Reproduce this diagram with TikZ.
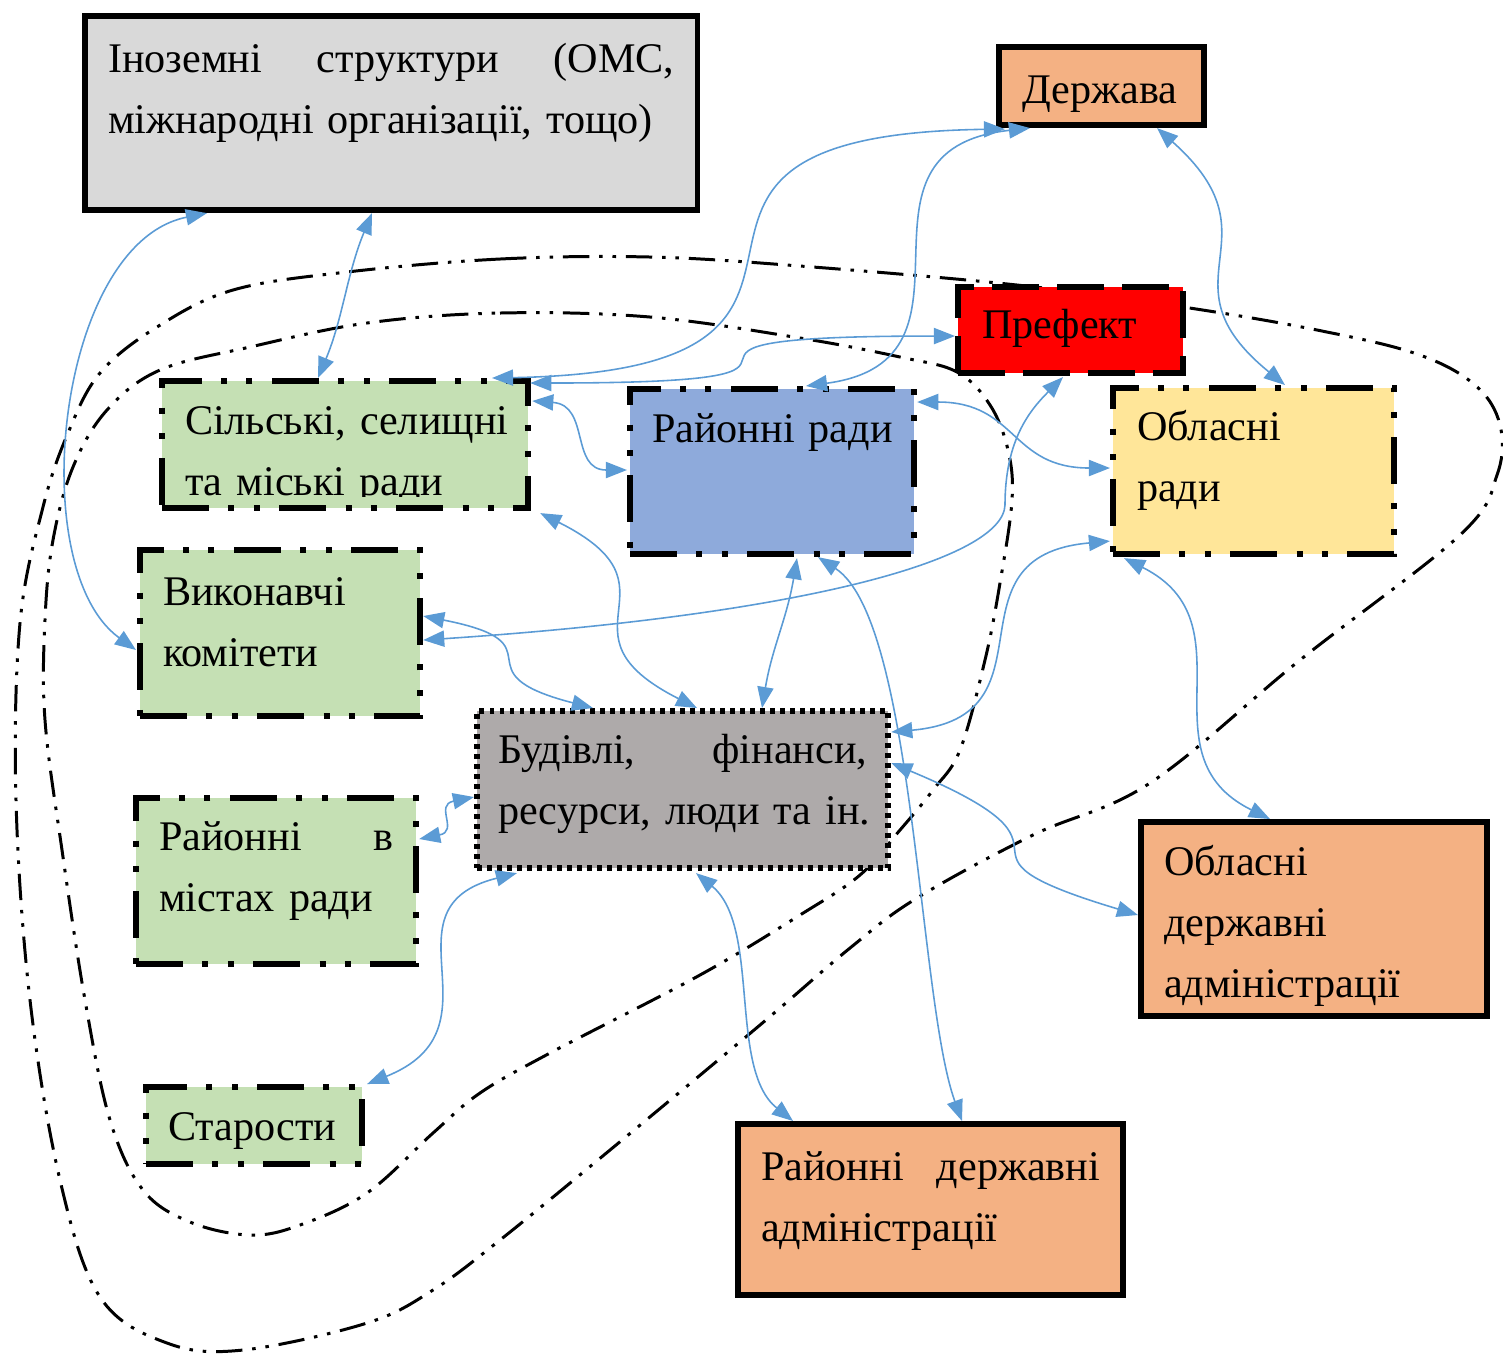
\documentclass[tikz,border=0pt]{standalone}
\usepackage{fontspec}
\setmainfont{Liberation Serif}
\usetikzlibrary{arrows.meta}
\definecolor{sirij}{HTML}{D9D9D9}
\definecolor{pomar}{HTML}{F4B183}
\definecolor{zelen}{HTML}{C5E0B4}
\definecolor{synij}{HTML}{8EAADB}
\definecolor{zhovt}{HTML}{FFE699}
\definecolor{budsir}{HTML}{AEAAAA}
\definecolor{lin}{HTML}{5B9BD5}
\newcommand\textsz{\fontsize{12}{17.36}\selectfont\frenchspacing}

\begin{document}
\begin{tikzpicture}[x=0.01cm, y=-0.01cm,
    blok/.style={anchor=north west, inner sep=0pt, outer sep=0pt,
        line width=1.6pt, align=left, font=\textsz},
    sucil/.style={blok, draw},
    tyre/.style={blok, draw, dash pattern=on 13.4pt off 5.1pt},
    tdd/.style={blok, draw,
        dash pattern=on 13.4pt off 5.5pt on 1.7pt off 5.5pt on 1.7pt off 5.5pt},
    krap/.style={blok, draw, dash pattern=on 1.4pt off 1.45pt},
    zv/.style={draw=lin, line width=.45pt,
        {Triangle[length=6pt,width=4.6pt]}-{Triangle[length=6pt,width=4.6pt]}},
    kontur/.style={line width=.85pt,
        dash pattern=on 7.5pt off 2.8pt on 1pt off 2.8pt on 1pt off 2.8pt}]
    \useasboundingbox (0,0) rectangle (1503,1353);

    % Межі (дві замкнені лінії)
    \draw[kontur] plot[smooth cycle, tension=.6] coordinates {
        (347,272) (500,259) (650,257) (800,266) (1017,285) (1183,307)
        (1317,330) (1417,354) (1475,385) (1500,425) (1497,475) (1460,535)
        (1300,660) (1150,783) (1033,835) (917,898) (850,948) (760,1025)
        (610,1150) (500,1240) (433,1290) (367,1323) (243,1350) (167,1343)
        (100,1297) (60,1180) (30,1000) (16,800) (20,623) (43,507) (68,433)
        (100,373) (157,327) (233,290)};
    \draw[kontur] plot[smooth cycle, tension=.6] coordinates {
        (367,323) (500,313) (650,317) (800,338) (900,357) (957,372)
        (990,405) (1008,450) (1012,500) (1000,583) (985,660) (960,750)
        (933,790) (900,830) (860,875) (800,915) (700,975) (550,1053)
        (480,1093) (433,1133) (367,1193) (300,1225) (250,1235) (190,1222)
        (143,1190) (110,1120) (85,1000) (62,850) (45,720) (45,620)
        (53,540) (73,467) (107,410) (160,370) (250,347)};

    \node[sucil, fill=sirij, minimum width=6.12cm, text width=5.66cm,
        text height=.56cm, text depth=1.38cm] (ino) at (85,16)
        {Іноземні~\hfill структури~\hfill (ОМС,\\міжнародні~організації,~тощо)};
    \node[sucil, fill=pomar, minimum width=2.05cm, text width=1.59cm,
        text height=.56cm, text depth=.22cm] (derzh) at (999,47) {Держава};
    \node[tyre, fill=red, minimum width=2.25cm, text width=1.77cm,
        text height=.51cm, text depth=.35cm] (pref) at (958,287) {Префект};
    \node[tdd, fill=zelen, minimum width=3.66cm, text width=3.2cm,
        text height=.53cm, text depth=.74cm] (sil) at (162,381)
        {Сільські,~селищні\\та~міські~ради};
    \fill[zelen] (166,497) rectangle (524,505);
    \node[tdd, fill=synij, minimum width=2.84cm, text width=2.4cm,
        text height=.53cm, text depth=1.12cm] (rrady) at (630,389)
        {Районні~ради};
    \node[tdd, fill=zhovt, minimum width=2.81cm, text width=2.33cm,
        text height=.52cm, text depth=1.14cm] (orady) at (1113,388)
        {Обласні\\ради};
    \node[tdd, fill=zelen, minimum width=2.8cm, text width=2.34cm,
        text height=.55cm, text depth=1.11cm] (vyk) at (140,550)
        {Виконавчі\\комітети};
    \node[krap, fill=budsir, minimum width=4.11cm, text width=3.69cm,
        text height=.52cm, text depth=1.05cm] (bud) at (477,711)
        {Будівлі,~\hfill фінанси,\\ресурси,~люди~та~ін.};
    \node[tdd, fill=zelen, minimum width=2.8cm, text width=2.34cm,
        text height=.52cm, text depth=1.14cm] (rmist) at (136,798)
        {Районні~\hfill в\\містах~ради};
    \node[sucil, fill=pomar, minimum width=3.46cm, text width=3cm,
        text height=.53cm, text depth=1.41cm] (oda) at (1141,822)
        {Обласні\\державні\\адміністрації};
    \node[tdd, fill=zelen, minimum width=2.16cm, text width=1.72cm,
        text height=.53cm, text depth=.24cm] (star) at (146,1087) {Старости};
    \node[sucil, fill=pomar, minimum width=3.85cm, text width=3.39cm,
        text height=.56cm, text depth=1.15cm] (rda) at (738,1124)
        {Районні~\hfill державні\\адміністрації};

    % Зв'язки
    \draw[zv] ([shift={(122,3)}]ino.south west) .. controls +(-150,30) and +(-113,-82)
        .. ([shift={(-4,100)}]vyk.north west);
    \draw[zv] ([shift={(287,3)}]ino.south west) .. controls +(-25,60) and +(25,-60)
        .. ([shift={(156,-3)}]sil.north west);
    \draw[zv] ([shift={(6,4)}]derzh.south west) .. controls +(-440,6) and +(443,-8)
        .. ([shift={(330,-3)}]sil.north west);
    \draw[zv] ([shift={(31,3)}]derzh.south west) .. controls +(-200,22) and +(194,-26)
        .. ([shift={(176,-3)}]rrady.north west);
    \draw[zv] ([shift={(158,3)}]derzh.south west) .. controls +(126,112) and +(-129,-105)
        .. ([shift={(172,-3)}]orady.north west);
    \draw[zv] ([shift={(2,2)}]sil.north east) .. controls +(390,0) and +(-390,0)
        .. ([shift={(-3,6)}]pref.west);
    \draw[zv] ([shift={(3,7)}]vyk.east) .. controls +(377,-25) and +(-2,55) .. (1005,505)
        .. controls +(0,-65) and +(-33,33) .. ([shift={(105,4)}]pref.south west);
    \draw[zv] ([shift={(4,20)}]sil.north east) .. controls +(58,4) and +(-57,0)
        .. ([shift={(-3,81)}]rrady.north west);
    \draw[zv] ([shift={(3,13)}]rrady.north east) .. controls +(100,0) and +(-100,0)
        .. ([shift={(-3,80)}]orady.north west);
    \draw[zv] ([shift={(12,5)}]sil.south east) .. controls +(150,75) and +(-150,-76)
        .. ([shift={(220,-3)}]bud.north west);
    \draw[zv] ([shift={(3,66)}]vyk.north east) .. controls +(142,28) and +(-140,-36)
        .. ([shift={(116,-3)}]bud.north west);
    \draw[zv] ([shift={(167,4)}]rrady.south west) .. controls +(-10,60) and +(10,-60)
        .. ([shift={(285,-3)}]bud.north west);
    \draw[zv] ([shift={(188,3)}]rrady.south west) .. controls +(97,63) and +(-44,-121)
        .. ([shift={(224,-3)}]rda.north west);
    \draw[zv] ([shift={(-3,-13)}]orady.south west) .. controls +(-170,15) and +(170,-15)
        .. ([shift={(3,21)}]bud.north east);
    \draw[zv] ([shift={(11,4)}]orady.south west) .. controls +(130,65) and +(-130,-64)
        .. ([shift={(129,-3)}]oda.north west);
    \draw[zv] ([shift={(3,52)}]bud.north east) .. controls +(220,92) and +(-220,-66)
        .. ([shift={(-3,93)}]oda.north west);
    \draw[zv] ([shift={(-3,86)}]bud.north west) .. controls +(-40,8) and +(40,-8)
        .. ([shift={(3,41)}]rmist.north east);
    \draw[zv] ([shift={(40,5)}]bud.south west) .. controls +(-140,35) and +(140,-56)
        .. ([shift={(5,-3)}]star.north east);
    \draw[zv] ([shift={(219,5)}]bud.south west) .. controls +(65,53) and +(-65,-52)
        .. ([shift={(55,-3)}]rda.north west);
\end{tikzpicture}
\end{document}
